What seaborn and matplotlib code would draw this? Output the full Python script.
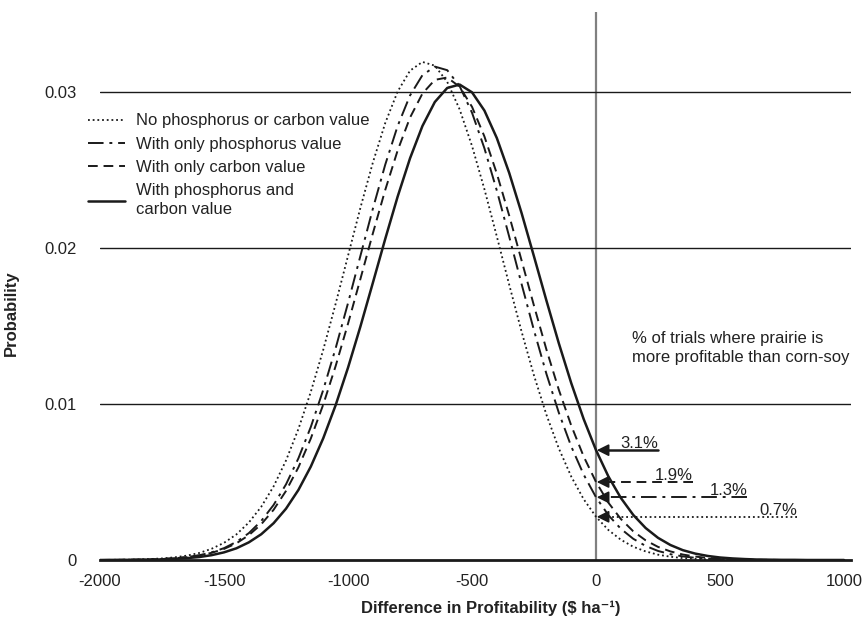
import numpy as np
import pandas as pd
import matplotlib
matplotlib.use("Agg")
import matplotlib.pyplot as plt
import seaborn as sns

# x grid ($ ha-1) and probability
profit_diff = list(range(-2000, 1001, 50))

no_p_or_c = [
    0.00000, 0.00001, 0.00002, 0.00003, 0.00006, 0.00010, 0.00017, 0.00028, 0.00045, 0.00072,
    0.00110, 0.00164, 0.00240, 0.00341, 0.00472, 0.00638, 0.00840, 0.01078, 0.01347, 0.01642,
    0.01950, 0.02258, 0.02547, 0.02801, 0.03003, 0.03137, 0.03193, 0.03169, 0.03065, 0.02889,
    0.02654, 0.02377, 0.02074, 0.01764, 0.01463, 0.01182, 0.00931, 0.00715, 0.00535, 0.00390,
    0.00277, 0.00192, 0.00130, 0.00085, 0.00055, 0.00034, 0.00021, 0.00012, 0.00007, 0.00004,
    0.00002, 0.00001, 0.00000, 0.00000, 0.00000, 0.00000, 0.00000, 0.00000, 0.00000, 0.00000,
    0.00000,
]
only_p = [
    0.00000, 0.00001, 0.00001, 0.00002, 0.00004, 0.00006, 0.00011, 0.00019, 0.00030, 0.00049,
    0.00076, 0.00116, 0.00172, 0.00250, 0.00353, 0.00485, 0.00652, 0.00853, 0.01090, 0.01357,
    0.01647, 0.01950, 0.02251, 0.02534, 0.02782, 0.02978, 0.03108, 0.03163, 0.03140, 0.03038,
    0.02867, 0.02639, 0.02368, 0.02072, 0.01768, 0.01471, 0.01193, 0.00944, 0.00728, 0.00548,
    0.00402, 0.00287, 0.00200, 0.00136, 0.00090, 0.00058, 0.00037, 0.00023, 0.00014, 0.00008,
    0.00005, 0.00003, 0.00001, 0.00001, 0.00000, 0.00000, 0.00000, 0.00000, 0.00000, 0.00000,
    0.00000,
]
only_c = [
    0.00000, 0.00001, 0.00001, 0.00002, 0.00004, 0.00006, 0.00011, 0.00018, 0.00029, 0.00046,
    0.00071, 0.00107, 0.00159, 0.00229, 0.00322, 0.00443, 0.00594, 0.00779, 0.00996, 0.01243,
    0.01515, 0.01802, 0.02093, 0.02372, 0.02625, 0.02836, 0.02990, 0.03078, 0.03093, 0.03034,
    0.02905, 0.02715, 0.02477, 0.02207, 0.01919, 0.01629, 0.01349, 0.01091, 0.00862, 0.00664,
    0.00500, 0.00367, 0.00263, 0.00184, 0.00126, 0.00084, 0.00055, 0.00035, 0.00022, 0.00013,
    0.00008, 0.00004, 0.00003, 0.00001, 0.00001, 0.00000, 0.00000, 0.00000, 0.00000, 0.00000,
    0.00000,
]
p_and_c = [
    0.00000, 0.00000, 0.00001, 0.00001, 0.00002, 0.00004, 0.00007, 0.00012, 0.00019, 0.00031,
    0.00049, 0.00075, 0.00113, 0.00165, 0.00236, 0.00329, 0.00449, 0.00599, 0.00780, 0.00992,
    0.01233, 0.01497, 0.01776, 0.02058, 0.02329, 0.02575, 0.02782, 0.02936, 0.03026, 0.03048,
    0.02998, 0.02881, 0.02705, 0.02481, 0.02223, 0.01945, 0.01663, 0.01389, 0.01134, 0.00904,
    0.00704, 0.00535, 0.00398, 0.00289, 0.00205, 0.00142, 0.00096, 0.00063, 0.00041, 0.00026,
    0.00016, 0.00010, 0.00006, 0.00003, 0.00002, 0.00001, 0.00001, 0.00000, 0.00000, 0.00000,
    0.00000,
]

series_names = [
    "No phosphorus or carbon value",
    "With only phosphorus value",
    "With only carbon value",
    "With phosphorus and\ncarbon value",
]
pct_labels = ["0.7%", "1.3%", "1.9%", "3.1%"]
arrow_ends = [812, 610, 390, 251]   # where each pointer line starts (x, $ ha-1)

x_ticks = [-2000, -1500, -1000, -500, 0, 500, 1000]
y_ticks = [0, 0.01, 0.02, 0.03]
y_ticklabels = ["0", "0.01", "0.02", "0.03"]

styles = [
    dict(linestyle=(0, (1, 1.6)), linewidth=1.3),
    dict(linestyle=(0, (8, 3, 1.5, 3)), linewidth=1.4),
    dict(linestyle=(0, (5, 3)), linewidth=1.4),
    dict(linestyle="-", linewidth=1.8),
]
ink = "#1a1a1a"
txt = "#222222"

sns.set_style("white")
plt.rcParams["font.family"] = ["Liberation Sans", "DejaVu Sans"]
plt.rcParams["font.size"] = 12

fig = plt.figure(figsize=(8.67, 6.18), dpi=100)
ax = fig.add_axes([100 / 867, 1 - 560 / 618, 751 / 867, 548 / 618])

df = pd.DataFrame({"x": profit_diff, "s0": no_p_or_c, "s1": only_p,
                   "s2": only_c, "s3": p_and_c})

ax.axvline(0, color="#808080", lw=1.6, zorder=1)
for yv in y_ticks[1:]:
    ax.axhline(yv, color=ink, lw=1.0, zorder=1)

for i, name in enumerate(series_names):
    sns.lineplot(data=df, x="x", y=f"s{i}", ax=ax, color=ink, label=name,
                 zorder=3, **styles[i])
handles, labels = ax.get_legend_handles_labels()

# pointers from each curve's height at x = 0
zero_idx = profit_diff.index(0)
for i, col in enumerate(["s0", "s1", "s2", "s3"]):
    yv = df[col].iloc[zero_idx]
    ax.plot([arrow_ends[i], 25], [yv, yv], color=ink, zorder=3, **styles[i])
    ax.annotate("", xy=(3, yv), xytext=(40, yv),
                arrowprops=dict(arrowstyle="-|>,head_length=0.6,head_width=0.3",
                                color=ink, lw=1.2, shrinkA=0, shrinkB=0), zorder=4)
    ax.text(arrow_ends[i], yv + 0.00012, pct_labels[i], ha="right", va="baseline",
            fontsize=12, color=txt)

ax.text(145, 0.0136, "% of trials where prairie is\nmore profitable than corn-soy",
        ha="left", va="center", fontsize=12, color=txt, linespacing=1.3)

ax.set_xlim(-2000, 1028)
ax.set_ylim(0, 0.03513)
ax.set_xticks(x_ticks)
ax.set_xticklabels([str(v) for v in x_ticks])
ax.set_yticks(y_ticks)
ax.set_yticklabels(y_ticklabels)

for side in ["left", "right", "top"]:
    ax.spines[side].set_visible(False)
ax.spines["bottom"].set_color(ink)
ax.spines["bottom"].set_linewidth(2.0)
ax.tick_params(axis="x", direction="out", length=4, width=1.3, color=ink,
               pad=6, labelsize=12, labelcolor=txt)
ax.tick_params(axis="y", length=0, pad=17, labelsize=12, labelcolor=txt)

ax.set_xlabel("Difference in Profitability ($ ha\u207b\u00b9)", fontweight="bold",
              fontsize=12, color=txt)
ax.set_ylabel("Probability", fontweight="bold", fontsize=12, color=txt)
ax.xaxis.set_label_coords(0.52, -0.075)
ax.yaxis.set_label_coords(-0.108, 0.45)

leg = ax.legend(handles, labels, loc="upper left",
                bbox_to_anchor=(88 / 867, 1 - 113.5 / 618),
                bbox_transform=fig.transFigure, frameon=False, borderpad=0,
                borderaxespad=0, handlelength=2.2, handletextpad=0.7,
                labelspacing=0.5, fontsize=12, labelcolor=txt)
for t in leg.get_texts():
    t.set_linespacing(1.32)

fig.savefig("out.png", dpi=100)
plt.close(fig)
